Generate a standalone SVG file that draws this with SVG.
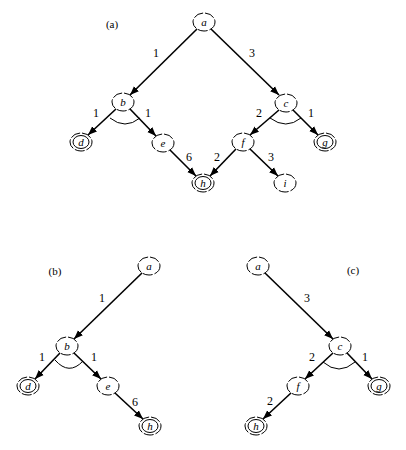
<svg xmlns="http://www.w3.org/2000/svg" width="406" height="450" viewBox="0 0 406 450">
<style>
.n ellipse{fill:none;stroke:#000;stroke-width:1;stroke-dasharray:10 2}
.n ellipse.in{stroke-dasharray:none}
.n text{font-family:"Liberation Serif","Times New Roman",serif;font-style:italic;font-size:11px;text-anchor:middle;fill:#000}
.e line{stroke:#000;stroke-width:1.6}
.e path{fill:none;stroke:#000;stroke-width:1}
.l{font-family:"Liberation Serif","Times New Roman",serif;font-size:12px;text-anchor:middle;fill:#000}
.p{font-family:"Liberation Serif","Times New Roman",serif;font-size:11px;text-anchor:middle;fill:#000}
</style>
<defs>
<marker id="ah" markerUnits="userSpaceOnUse" markerWidth="10" markerHeight="8" refX="9" refY="4" orient="auto">
<path d="M0,0.5 L9,4 L0,7.5 Z" fill="#000"/>
</marker>
</defs>
<rect width="406" height="450" fill="#fff"/>
<text class="p" x="112" y="28">(a)</text>
<text class="p" x="55" y="275">(b)</text>
<text class="p" x="353" y="274">(c)</text>
<g class="e" id="connectors">
<line x1="197" y1="29" x2="130" y2="95" marker-end="url(#ah)"/>
<line x1="211" y1="29" x2="279" y2="95" marker-end="url(#ah)" stroke-width="1.2"/>
<line x1="116" y1="109" x2="88" y2="135" marker-end="url(#ah)"/>
<line x1="130" y1="109" x2="156" y2="136" marker-end="url(#ah)"/>
<line x1="170" y1="150" x2="196" y2="176" marker-end="url(#ah)"/>
<line x1="279" y1="110" x2="250" y2="135" marker-end="url(#ah)"/>
<line x1="293" y1="110" x2="318" y2="135" marker-end="url(#ah)"/>
<line x1="236" y1="149" x2="210" y2="176" marker-end="url(#ah)"/>
<line x1="250" y1="149" x2="278" y2="176" marker-end="url(#ah)"/>
<path d="M110 118 Q125 130 140 118"/>
<path d="M270 118 Q286 130 301 118"/>
<line x1="142" y1="273" x2="74" y2="339" marker-end="url(#ah)"/>
<line x1="60" y1="353" x2="35" y2="379" marker-end="url(#ah)"/>
<line x1="74" y1="353" x2="101" y2="379" marker-end="url(#ah)"/>
<line x1="115" y1="393" x2="143" y2="419" marker-end="url(#ah)"/>
<path d="M55 360 Q69 376 83 361"/>
<line x1="265" y1="273" x2="333" y2="339" marker-end="url(#ah)" stroke-width="1.2"/>
<line x1="333" y1="353" x2="305" y2="379" marker-end="url(#ah)"/>
<line x1="347" y1="353" x2="372" y2="379" marker-end="url(#ah)"/>
<line x1="291" y1="393" x2="263" y2="419" marker-end="url(#ah)"/>
<path d="M323 362 Q339 376 355 362"/>
</g>
<g id="edge-labels">
<text class="l" x="156" y="57">1</text>
<text class="l" x="252" y="57">3</text>
<text class="l" x="96" y="117">1</text>
<text class="l" x="148" y="117">1</text>
<text class="l" x="189" y="161">6</text>
<text class="l" x="259" y="117">2</text>
<text class="l" x="311" y="117">1</text>
<text class="l" x="217" y="161">2</text>
<text class="l" x="271" y="161">3</text>
<text class="l" x="102" y="302">1</text>
<text class="l" x="42" y="361">1</text>
<text class="l" x="94" y="361">1</text>
<text class="l" x="135" y="406">6</text>
<text class="l" x="307" y="302">3</text>
<text class="l" x="312" y="361">2</text>
<text class="l" x="365" y="361">1</text>
<text class="l" x="270" y="405">2</text>
</g>
<g class="n" id="a1"><ellipse cx="204" cy="22" rx="11" ry="9"/><text x="204" y="26">a</text></g>
<g class="n" id="b1"><ellipse cx="123" cy="102" rx="11" ry="9"/><text x="123" y="106">b</text></g>
<g class="n" id="c1"><ellipse cx="286" cy="103" rx="11" ry="9"/><text x="286" y="107">c</text></g>
<g class="n" id="d1"><ellipse cx="81" cy="142" rx="11" ry="9"/><ellipse class="in" cx="81" cy="142" rx="8" ry="6.5"/><text x="81" y="146">d</text></g>
<g class="n" id="e1"><ellipse cx="163" cy="143" rx="11" ry="9"/><text x="163" y="147">e</text></g>
<g class="n" id="f1"><ellipse cx="243" cy="142" rx="11" ry="9"/><text x="243" y="146">f</text></g>
<g class="n" id="g1"><ellipse cx="325" cy="142" rx="11" ry="9"/><ellipse class="in" cx="325" cy="142" rx="8" ry="6.5"/><text x="325" y="146">g</text></g>
<g class="n" id="h1"><ellipse cx="203" cy="183" rx="11" ry="9"/><ellipse class="in" cx="203" cy="183" rx="8" ry="6.5"/><text x="203" y="187">h</text></g>
<g class="n" id="i1"><ellipse cx="285" cy="183" rx="11" ry="9"/><text x="285" y="187">i</text></g>
<g class="n" id="a2"><ellipse cx="149" cy="266" rx="11" ry="9"/><text x="149" y="270">a</text></g>
<g class="n" id="b2"><ellipse cx="67" cy="346" rx="11" ry="9"/><text x="67" y="350">b</text></g>
<g class="n" id="d2"><ellipse cx="28" cy="386" rx="11" ry="9"/><ellipse class="in" cx="28" cy="386" rx="8" ry="6.5"/><text x="28" y="390">d</text></g>
<g class="n" id="e2"><ellipse cx="108" cy="386" rx="11" ry="9"/><text x="108" y="390">e</text></g>
<g class="n" id="h2"><ellipse cx="150" cy="426" rx="11" ry="9"/><ellipse class="in" cx="150" cy="426" rx="8" ry="6.5"/><text x="150" y="430">h</text></g>
<g class="n" id="a3"><ellipse cx="258" cy="266" rx="11" ry="9"/><text x="258" y="270">a</text></g>
<g class="n" id="c3"><ellipse cx="340" cy="346" rx="11" ry="9"/><text x="340" y="350">c</text></g>
<g class="n" id="f3"><ellipse cx="298" cy="386" rx="11" ry="9"/><text x="298" y="390">f</text></g>
<g class="n" id="g3"><ellipse cx="379" cy="386" rx="11" ry="9"/><ellipse class="in" cx="379" cy="386" rx="8" ry="6.5"/><text x="379" y="390">g</text></g>
<g class="n" id="h3"><ellipse cx="256" cy="426" rx="11" ry="9"/><ellipse class="in" cx="256" cy="426" rx="8" ry="6.5"/><text x="256" y="430">h</text></g>
</svg>
